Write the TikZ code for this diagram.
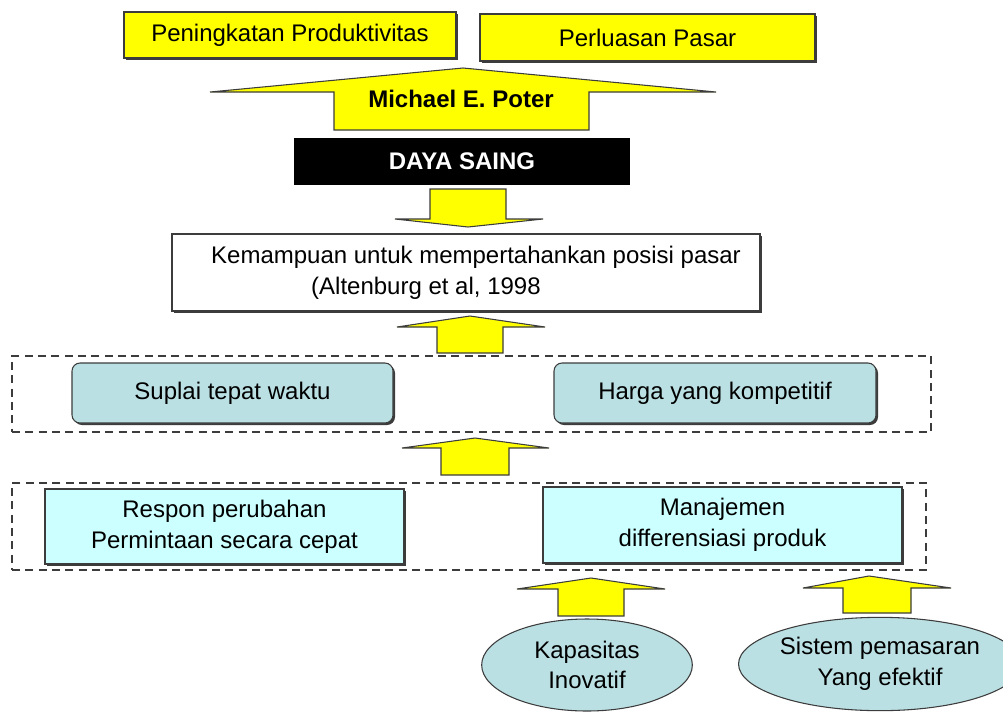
\documentclass[tikz,border=0pt]{standalone}
\usepackage{fontspec}
\setmainfont{Liberation Sans}
\usetikzlibrary{shadows,shapes.geometric}

\definecolor{ptyellow}{RGB}{255,255,0}
\definecolor{ptteal}{RGB}{187,224,227}
\definecolor{ptcyan}{RGB}{204,255,255}
\definecolor{ptline}{RGB}{60,60,60}

\tikzset{
  txt/.style={font=\fontsize{18}{23}\selectfont},
  box/.style={txt, draw=ptline, line width=0.8pt, inner sep=0pt,
    drop shadow={shadow xshift=1.5pt, shadow yshift=-1.5pt, fill=ptline, opacity=1}},
  ybox/.style={box, fill=ptyellow},
  rbox/.style={box, fill=ptteal, rounded corners=6pt},
  cbox/.style={box, fill=ptcyan, align=center},
  group/.style={draw=ptline, line width=1.2pt, dash pattern=on 6pt off 4pt, inner sep=0pt},
  blockarrow/.style={fill=ptyellow, draw=ptline, line width=0.8pt},
  oval/.style={txt, ellipse, draw=ptline, fill=ptteal, line width=0.8pt, inner sep=0pt, align=center},
}

\begin{document}
\begin{tikzpicture}[x=0.75pt,y=0.75pt,yscale=-1,xscale=1]
\useasboundingbox (0,0) rectangle (1003,711);

% Top boxes
\node [ybox, minimum width=249pt, minimum height=34.5pt] (prod) at (290,35) {Peningkatan Produktivitas};
\node [ybox, minimum width=251.25pt, minimum height=35.25pt] (pasar) at (647.5,37.5) {Perluasan Pasar};

% Big arrow
\draw [blockarrow] (463,68) -- (716,92) -- (589,92) -- (589,130) -- (334,130) -- (334,92) -- (210,92) -- cycle ;
\node [txt, font=\fontsize{18}{23}\selectfont\bfseries] (poter) at (461,99) {Michael E. Poter};

% Daya saing
\node [txt, fill=black, text=white, font=\fontsize{18}{23}\selectfont\bfseries,
  minimum width=252pt, minimum height=35.25pt] (saing) at (462,161.5) {DAYA SAING};

\draw [blockarrow] (430,189) -- (506,189) -- (506,219) -- (543,219) -- (468,227) -- (395,219) -- (430,219) -- cycle ;

% Posisi pasar
\node [box, fill=white, align=left, minimum width=441pt, minimum height=57.75pt] (posisi) at (466,272.5)
  {\hspace*{15pt}Kemampuan untuk mempertahankan posisi pasar\\\hspace*{90pt}(Altenburg et al, 1998};

\draw [blockarrow] (470,316) -- (545,327) -- (503,327) -- (503,353) -- (437,353) -- (437,327) -- (397,327) -- cycle ;

% First group
\node [group, minimum width=689.25pt, minimum height=57pt] (grpone) at (471.5,394) {};
\node [rbox, minimum width=240.75pt, minimum height=45pt] (suplai) at (232.5,393) {Suplai tepat waktu};
\node [rbox, minimum width=241.5pt, minimum height=45pt] (harga) at (715,393) {Harga yang kompetitif};

\draw [blockarrow] (475,438) -- (549,448) -- (509,448) -- (509,475) -- (441,475) -- (441,448) -- (402,448) -- cycle ;

% Second group
\node [group, minimum width=685.5pt, minimum height=65.25pt] (grptwo) at (469,526.5) {};
\node [cbox, minimum width=269.25pt, minimum height=56.25pt] (respon) at (224.5,526.5) {Respon perubahan\\Permintaan secara cepat};
\node [cbox, minimum width=269.25pt, minimum height=57pt] (diff) at (722.5,525) {Manajemen\\differensiasi produk};

\draw [blockarrow] (591,578) -- (665,589) -- (624,589) -- (624,616) -- (558,616) -- (558,589) -- (517,589) -- cycle ;
\draw [blockarrow] (869,576) -- (951,588) -- (911,588) -- (911,613) -- (843,613) -- (843,588) -- (803,588) -- cycle ;

% Ellipses
\node [oval, minimum width=158pt, minimum height=69pt] (inovatif) at (587,665) {Kapasitas\\Inovatif};
\node [oval, minimum width=189pt, minimum height=70pt] (pemasaran) at (880,664) {Sistem pemasaran\\Yang efektif};

\end{tikzpicture}
\end{document}
